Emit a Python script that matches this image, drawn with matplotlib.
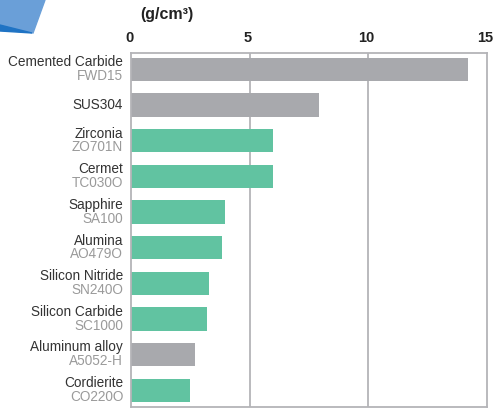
import matplotlib
matplotlib.use('Agg')
import matplotlib.pyplot as plt
import matplotlib.transforms as mtransforms
from matplotlib.patches import Polygon

plt.rcParams['font.family'] = ['Liberation Sans', 'DejaVu Sans']

# density values (g/cm3)
materials = ['Cemented Carbide', 'SUS304', 'Zirconia', 'Cermet', 'Sapphire',
             'Alumina', 'Silicon Nitride', 'Silicon Carbide', 'Aluminum alloy', 'Cordierite']
grades = ['FWD15', '', 'ZO701N', 'TC030O', 'SA100',
          'AO479O', 'SN240O', 'SC1000', 'A5052-H', 'CO220O']
density = [14.2, 7.93, 6.0, 6.0, 3.97, 3.85, 3.3, 3.2, 2.68, 2.5]
is_ceramic = [False, False, True, True, True, True, True, True, False, True]
xticks = [0, 5, 10, 15]

GREEN = '#61c3a1'
GREY = '#a8a9ad'
FRAME = '#b4b4b8'

fig = plt.figure(figsize=(4.93, 4.08), dpi=100)
ax = fig.add_axes([131 / 493, 1 - 407 / 408, (487 - 131) / 493, (407 - 53) / 408])

y = list(range(len(materials)))
colors = [GREEN if c else GREY for c in is_ceramic]
ax.barh(y, density, height=0.65, color=colors, zorder=2)

ax.set_xlim(0, 15)
ax.set_ylim(len(materials) - 0.53, -0.46)
ax.set_xticks(xticks)
ax.xaxis.tick_top()
ax.tick_params(axis='x', length=0, pad=6, labelsize=10.5, labelcolor='#222222')
shift = mtransforms.ScaledTranslation(-2 / 100, 0, fig.dpi_scale_trans)
for t in ax.get_xticklabels():
    t.set_fontweight('bold')
    t.set_transform(t.get_transform() + shift)
ax.set_yticks([])
for s in ax.spines.values():
    s.set_color(FRAME)
    s.set_linewidth(1.3)
for gx in xticks[1:-1]:
    ax.axvline(gx, color=FRAME, lw=1.3, zorder=1)

# two-line category labels: material name over grade code
for i, (name, code) in enumerate(zip(materials, grades)):
    if code:
        ax.text(-0.33, i - 0.2, name, ha='right', va='center', fontsize=9.8, color='#333333')
        ax.text(-0.33, i + 0.19, code, ha='right', va='center', fontsize=9.8, color='#9a9a9a')
    else:
        ax.text(-0.33, i, name, ha='right', va='center', fontsize=9.8, color='#333333')

fig.text(140 / 493, 1 - 14 / 408, '(g/cm³)', ha='left', va='center',
         fontsize=11.5, fontweight='bold', color='#222222')

# decorative corner shape
fig.patches.append(Polygon([(0, 1), (45 / 493, 1), (33 / 493, 1 - 33 / 408), (0, 1 - 26 / 408)],
                           closed=True, transform=fig.transFigure, color='#6a9fd8'))
fig.patches.append(Polygon([(0, 1 - 25 / 408), (32 / 493, 1 - 33 / 408), (0, 1 - 31 / 408)],
                           closed=True, transform=fig.transFigure, color='#1f73c4'))

fig.savefig('out.png', dpi=100)
